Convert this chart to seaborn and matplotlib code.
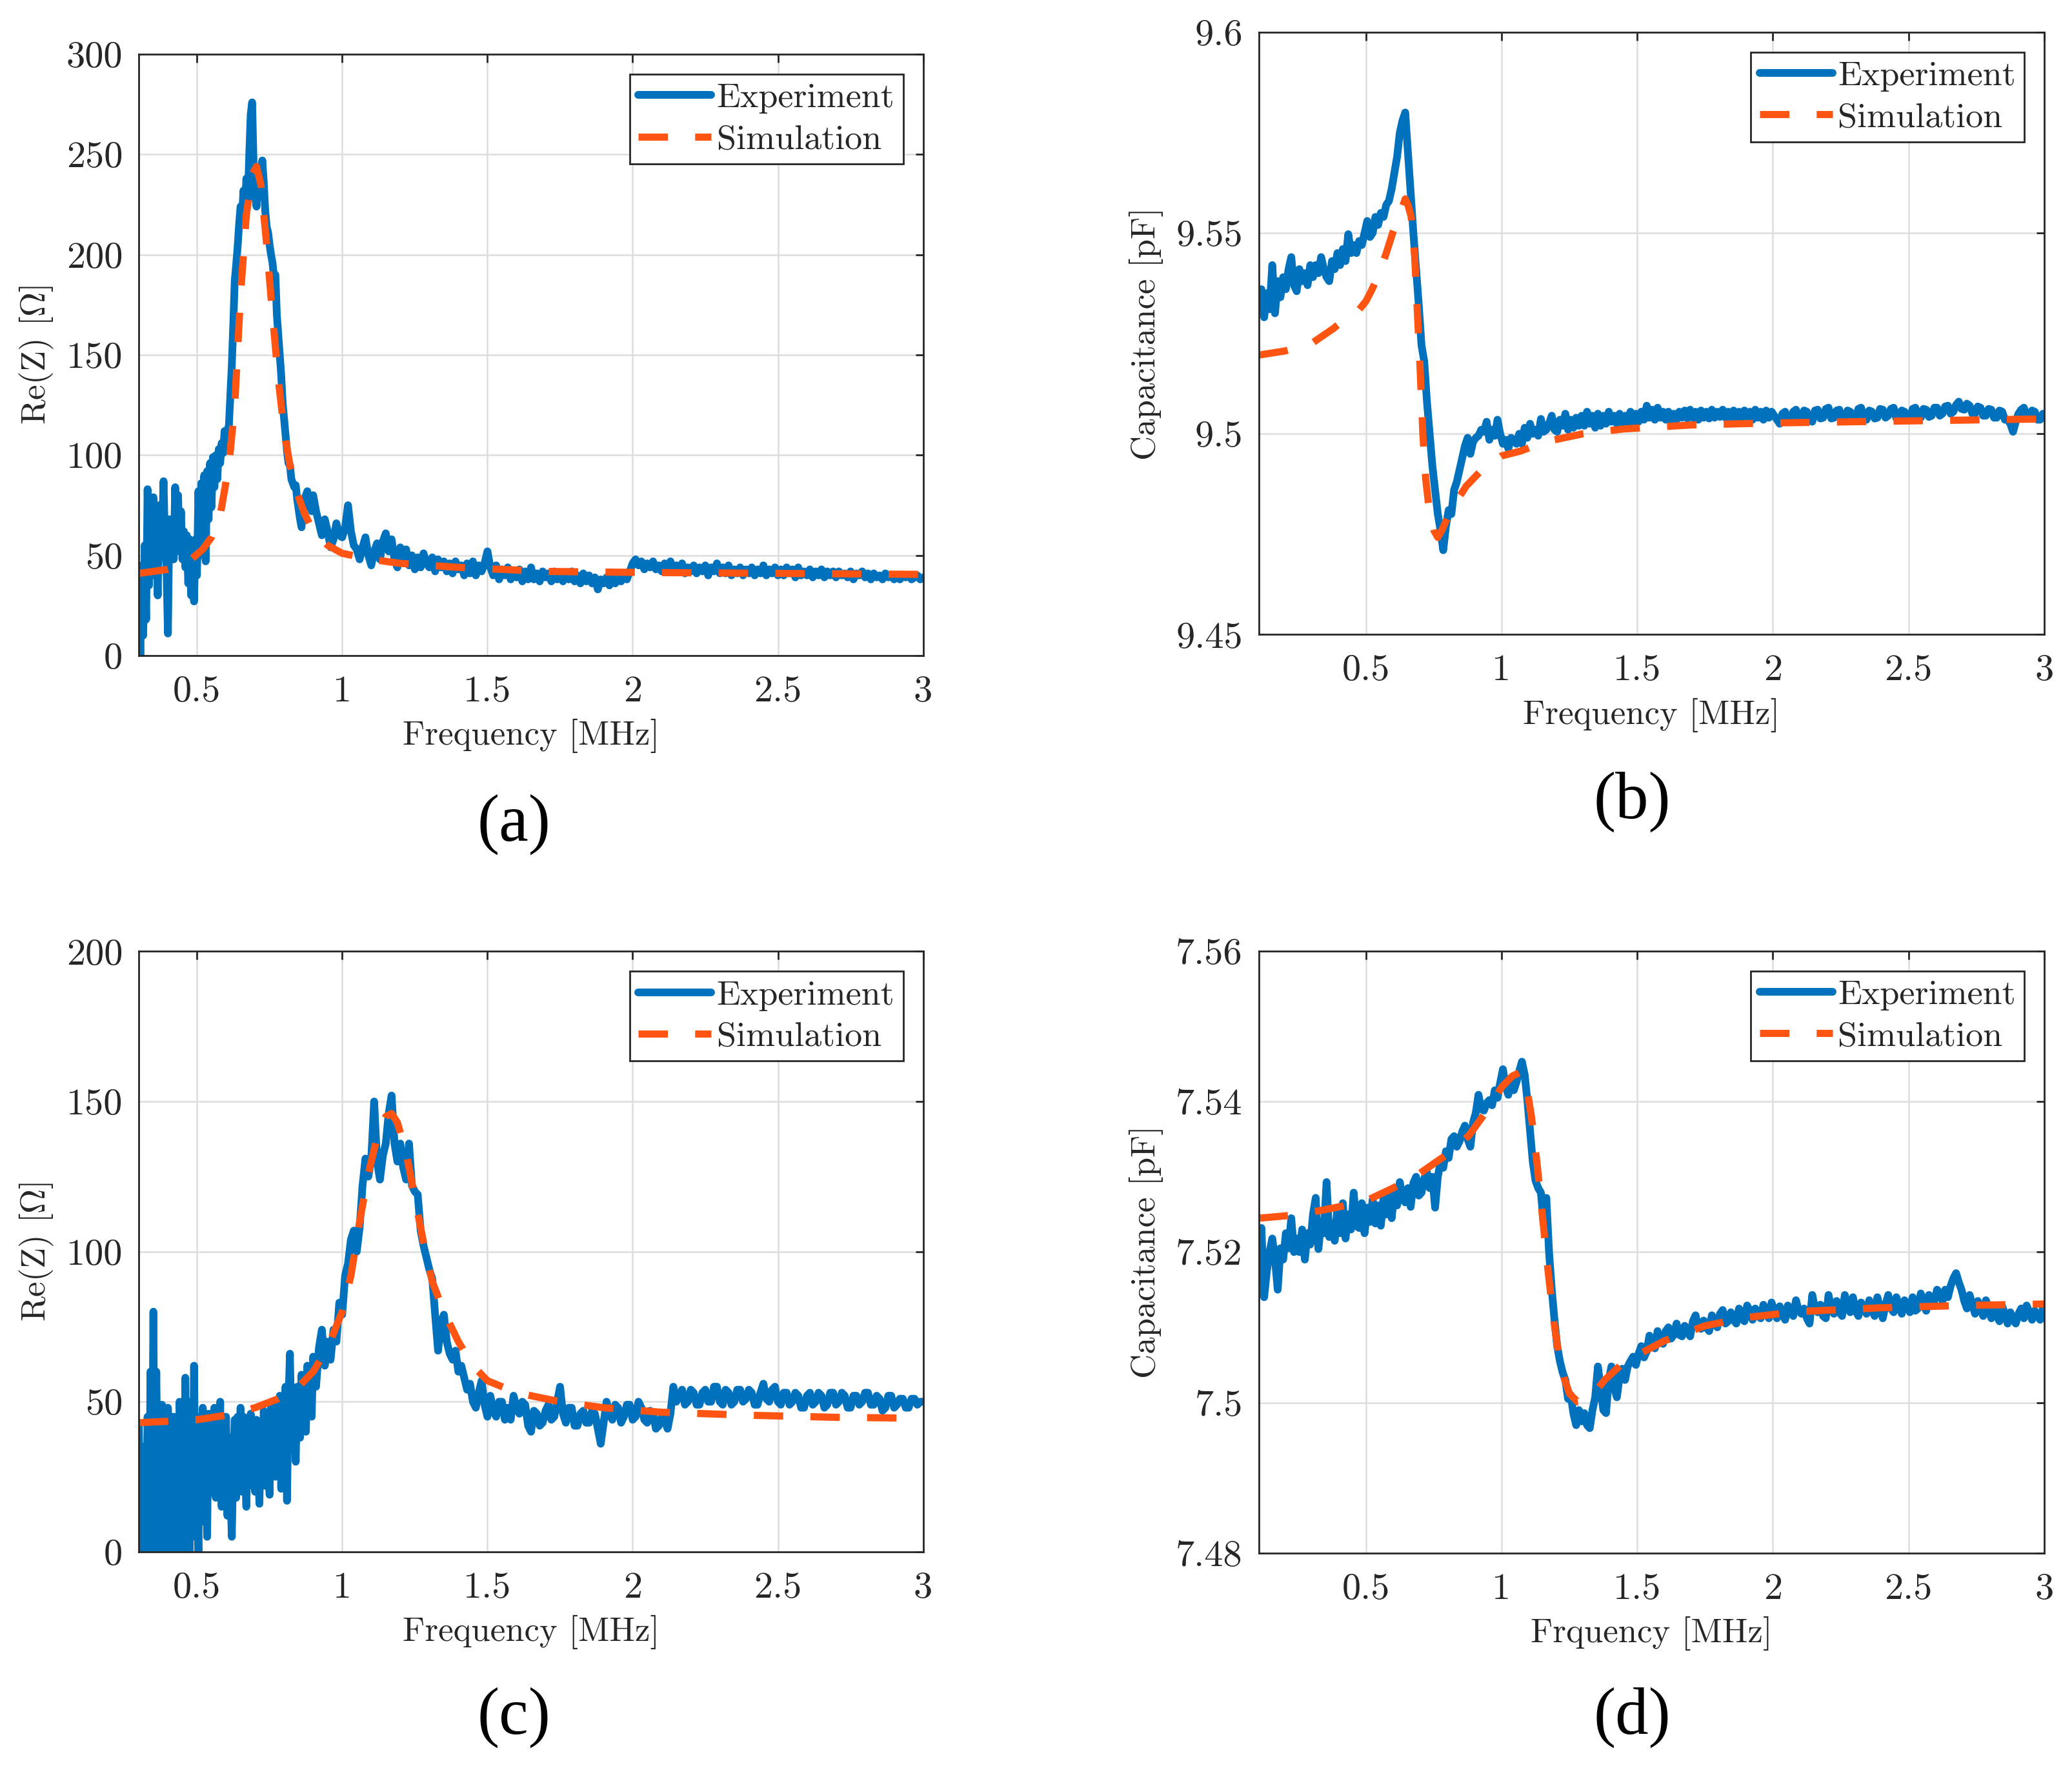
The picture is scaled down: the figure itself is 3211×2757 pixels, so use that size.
import numpy as np
import matplotlib
matplotlib.use("Agg")
import matplotlib.pyplot as plt
from matplotlib.ticker import FuncFormatter, MultipleLocator
import seaborn as sns

# ---------------- data ----------------
# (a) Re(Z) sample 1
a_exp_lo = [  # 0.300 .. 0.900 MHz, step 0.005
    38, 0, 45, 10, 55, 18, 83, 35, 70, 45,
    79, 40, 58, 30, 75, 50, 62, 87, 55, 45,
    11, 68, 50, 65, 48, 84, 55, 80, 52, 72,
    48, 62, 44, 60, 36, 58, 30, 52, 27, 58,
    40, 82, 50, 86, 58, 90, 47, 92, 68, 96,
    74, 99, 84, 100, 88, 103, 96, 106, 101, 112,
    108, 112, 115, 130, 145, 165, 187, 195, 204, 215,
    224, 218, 232, 222, 238, 226, 250, 270, 276, 245,
    230, 224, 238, 232, 240, 247, 236, 222, 214, 211,
    205, 200, 196, 189, 190, 170, 160, 150, 140, 126,
    118, 110, 102, 96, 95, 88, 86, 84, 85, 78,
    73, 68, 64, 72, 76, 80, 82, 74, 78, 72,
    80]
a_exp_hi = [  # 0.91 .. 3.00 MHz, step 0.01
    72, 66, 60, 68, 62, 54, 58, 66, 60, 59,
    64, 75, 62, 55, 53, 48, 54, 59, 50, 45,
    52, 56, 48, 57, 61, 52, 58, 48, 44, 54,
    47, 53, 45, 50, 43, 49, 44, 51, 46, 44,
    49, 42, 48, 44, 47, 42, 46, 41, 47, 43,
    45, 40, 46, 41, 47, 40, 45, 42, 46, 52,
    44, 40, 45, 38, 43, 40, 44, 38, 42, 39,
    43, 37, 42, 38, 44, 38, 41, 37, 42, 39,
    41, 37, 42, 38, 41, 37, 40, 38, 42, 37,
    40, 36, 41, 37, 40, 36, 39, 33, 38, 36,
    39, 35, 40, 36, 41, 37, 40, 38, 42, 46,
    48, 45, 47, 43, 46, 44, 47, 43, 45, 42,
    46, 43, 47, 42, 45, 43, 46, 41, 44, 42,
    45, 41, 44, 42, 45, 40, 44, 42, 46, 41,
    44, 41, 45, 40, 43, 41, 44, 40, 43, 41,
    44, 40, 43, 41, 45, 40, 43, 41, 44, 40,
    43, 40, 44, 41, 43, 39, 44, 40, 42, 40,
    43, 39, 42, 40, 43, 39, 42, 40, 42, 39,
    42, 40, 41, 39, 42, 38, 41, 40, 42, 39,
    41, 38, 41, 39, 40, 38, 41, 39, 40, 38,
    40, 38, 40, 39, 40, 38, 39, 40, 38, 39]
a_sim_f = [0.30, 0.40, 0.45, 0.48, 0.52, 0.55, 0.58, 0.61, 0.63, 0.65, 0.67,
           0.69, 0.705, 0.72, 0.74, 0.76, 0.78, 0.80, 0.82, 0.845, 0.87, 0.90,
           0.95, 1.00, 1.10, 1.20, 1.40, 1.70, 2.00, 2.50, 3.00]
a_sim = [41, 43, 45, 48, 53, 59, 70, 95, 125, 180, 220,
         240, 244, 235, 205, 170, 138, 112, 95, 81, 71, 62,
         55, 51, 48, 46, 44, 42, 41.5, 41, 40.5]

# (b) capacitance sample 1
b_exp_lo = [  # 0.105 .. 0.905 MHz, step 0.01
    9.531, 9.536, 9.529, 9.535, 9.531, 9.542, 9.530, 9.538, 9.534, 9.539,
    9.536, 9.541, 9.544, 9.537, 9.5355, 9.541, 9.538, 9.540, 9.537, 9.542,
    9.539, 9.542, 9.540, 9.544, 9.541, 9.539, 9.538, 9.543, 9.541, 9.545,
    9.542, 9.546, 9.543, 9.5497, 9.545, 9.547, 9.545, 9.548, 9.547, 9.550,
    9.553, 9.549, 9.550, 9.554, 9.552, 9.555, 9.554, 9.557, 9.558, 9.561,
    9.565, 9.569, 9.575, 9.578, 9.580, 9.570, 9.560, 9.550, 9.541, 9.532,
    9.522, 9.518, 9.508, 9.500, 9.492, 9.486, 9.480, 9.476, 9.471, 9.477,
    9.481, 9.480, 9.486, 9.488, 9.491, 9.494, 9.497, 9.499, 9.495, 9.498,
    9.499]
b_exp_hi = [  # 0.915 .. 3.005 MHz, step 0.01
    9.4995, 9.501, 9.5005, 9.503, 9.4985, 9.501, 9.4995, 9.5035, 9.500, 9.4975,
    9.4985, 9.4963, 9.499, 9.4985, 9.4975, 9.500, 9.4975, 9.5015, 9.499, 9.5025,
    9.500, 9.501, 9.4995, 9.5037, 9.5005, 9.501, 9.5025, 9.5045, 9.501, 9.5005,
    9.5035, 9.502, 9.505, 9.501, 9.5035, 9.5015, 9.504, 9.502, 9.5045, 9.502,
    9.5055, 9.5025, 9.5045, 9.5015, 9.505, 9.502, 9.5045, 9.5025, 9.5055, 9.503,
    9.5045, 9.5025, 9.505, 9.5025, 9.5045, 9.503, 9.5055, 9.5025, 9.505, 9.503,
    9.5055, 9.5035, 9.507, 9.504, 9.506, 9.5035, 9.5065, 9.504, 9.5055, 9.5035,
    9.5055, 9.503, 9.505, 9.5035, 9.5055, 9.504, 9.5058, 9.5038, 9.506, 9.504,
    9.5055, 9.5035, 9.5058, 9.504, 9.5055, 9.5038, 9.506, 9.504, 9.5055, 9.5042,
    9.506, 9.504, 9.5055, 9.5038, 9.5058, 9.504, 9.5055, 9.5035, 9.5058, 9.504,
    9.5055, 9.5035, 9.506, 9.504, 9.5055, 9.5035, 9.5058, 9.504, 9.5055, 9.5045,
    9.5035, 9.5025, 9.505, 9.5055, 9.5035, 9.503, 9.5055, 9.506, 9.5038, 9.504,
    9.5058, 9.5055, 9.5035, 9.503, 9.5058, 9.506, 9.5038, 9.504, 9.5062, 9.5065,
    9.5038, 9.504, 9.5058, 9.506, 9.5035, 9.5035, 9.5058, 9.5055, 9.5038, 9.504,
    9.5062, 9.5065, 9.504, 9.5035, 9.5058, 9.5055, 9.5038, 9.504, 9.5062, 9.506,
    9.504, 9.5045, 9.5062, 9.5065, 9.5038, 9.504, 9.5058, 9.5055, 9.5035, 9.5035,
    9.5062, 9.5065, 9.504, 9.504, 9.5062, 9.506, 9.5042, 9.5045, 9.5065, 9.5065,
    9.5045, 9.505, 9.5068, 9.507, 9.505, 9.5055, 9.5072, 9.508, 9.5062, 9.506,
    9.5075, 9.507, 9.505, 9.505, 9.5068, 9.5065, 9.5045, 9.5045, 9.5062, 9.506,
    9.504, 9.504, 9.5058, 9.5055, 9.5035, 9.5035, 9.5025, 9.5005, 9.503, 9.505,
    9.506, 9.5065, 9.5042, 9.504, 9.5058, 9.5055, 9.5035, 9.5035, 9.505, 9.5045]
b_sim_f = [0.105, 0.20, 0.30, 0.38, 0.43, 0.47, 0.50, 0.52, 0.55, 0.575, 0.60,
           0.62, 0.635, 0.645, 0.655, 0.667, 0.68, 0.69, 0.70, 0.71, 0.72, 0.735,
           0.75, 0.765, 0.78, 0.80, 0.83, 0.87, 0.93, 1.00, 1.07, 1.16, 1.30,
           1.45, 1.70, 2.00, 2.50, 3.00]
b_sim = [9.5196, 9.5206, 9.5225, 9.5262, 9.5290, 9.5305, 9.5330, 9.5356, 9.5400,
         9.5450, 9.5503, 9.5540, 9.5565, 9.5585, 9.5570, 9.5540, 9.5440, 9.5300,
         9.5160, 9.5000, 9.4890, 9.4800, 9.4760, 9.4742, 9.4760, 9.4790, 9.4828,
         9.4870, 9.4912, 9.4945, 9.4957, 9.4980, 9.5000, 9.5012, 9.5022, 9.5027,
         9.5032, 9.5037]

# (c) Re(Z) sample 2
c_exp_lo = [  # 0.300 .. 0.900 MHz, step 0.005
    42, 0, 35, 0, 30, 12, 45, 0, 60, 10,
    80, 0, 60, 20, 38, 0, 49, 5, 35, 0,
    48, 15, 30, 0, 45, 20, 40, 0, 50, 10,
    35, 0, 58, 20, 45, 0, 50, 5, 62, 15,
    40, 0, 45, 18, 48, 10, 38, 5, 46, 20,
    40, 25, 48, 18, 42, 28, 50, 15, 40, 22,
    45, 12, 38, 20, 5, 30, 44, 18, 45, 25,
    48, 20, 45, 28, 15, 40, 22, 46, 28, 40,
    20, 44, 30, 16, 42, 25, 47, 22, 45, 30,
    19, 48, 28, 50, 25, 45, 35, 52, 21, 48,
    30, 55, 17, 50, 66, 40, 52, 45, 30, 55,
    45, 38, 59, 48, 55, 40, 62, 50, 58, 45,
    65]
c_exp_mid = [  # 0.91 .. 1.50 MHz, step 0.01
    55, 68, 74, 62, 70, 64, 74, 70, 83, 79,
    92, 96, 104, 107, 100, 108, 122, 131, 125, 131,
    150, 130, 124, 132, 136, 146, 152, 136, 130, 136,
    128, 124, 136, 122, 120, 119, 107, 102, 98, 94,
    91, 79, 67, 76, 79, 70, 66, 64, 67, 60,
    62, 58, 54, 56, 50, 48, 53, 57, 49, 45]
c_exp_hi = [  # 1.51 .. 3.00 MHz, step 0.01
    52, 47, 45, 50, 50, 44, 48, 44, 52, 48,
    46, 50, 49, 42, 40, 47, 46, 42, 43, 47,
    49, 44, 45, 50, 55, 46, 43, 48, 48, 42,
    42, 46, 47, 43, 43, 47, 46, 41, 36, 43,
    50, 46, 44, 49, 48, 43, 45, 49, 49, 44,
    45, 50, 48, 44, 43, 47, 46, 41, 42, 45,
    44, 41, 46, 55, 50, 52, 54, 49, 50, 54,
    53, 49, 49, 53, 54, 50, 50, 55, 55, 50,
    49, 54, 53, 49, 50, 54, 54, 50, 51, 54,
    53, 49, 49, 53, 56, 51, 50, 54, 55, 50,
    49, 53, 53, 49, 50, 53, 52, 48, 48, 52,
    53, 49, 50, 53, 52, 48, 49, 53, 53, 49,
    50, 53, 52, 48, 48, 52, 52, 49, 50, 53,
    53, 49, 49, 52, 51, 47, 48, 52, 52, 48,
    49, 51, 51, 48, 48, 51, 51, 49, 50, 50]
c_sim_f = [0.30, 0.40, 0.50, 0.60, 0.70, 0.78, 0.84, 0.90, 0.95, 1.00, 1.03,
           1.06, 1.09, 1.12, 1.15, 1.17, 1.19, 1.22, 1.25, 1.28, 1.31, 1.35,
           1.40, 1.45, 1.50, 1.60, 1.75, 1.90, 2.10, 2.40, 2.70, 3.00]
c_sim = [43, 43.5, 44, 45.5, 48, 51, 54, 60, 68, 80, 92,
         110, 126, 138, 145, 146, 143, 133, 118, 103, 90, 80,
         70, 62, 57, 53, 50, 48, 46.5, 45.5, 44.8, 44.5]

# (d) capacitance sample 2
d_exp_lo = [  # 0.105 .. 1.505 MHz, step 0.01
    7.5185, 7.5232, 7.5140, 7.5175, 7.5200, 7.5218, 7.5190, 7.5150, 7.5205, 7.5190,
    7.5225, 7.5205, 7.5245, 7.5200, 7.5218, 7.5200, 7.5230, 7.5190, 7.5225, 7.5210,
    7.5250, 7.5272, 7.5204, 7.5240, 7.5225, 7.5293, 7.5220, 7.5238, 7.5215, 7.5259,
    7.5225, 7.5265, 7.5218, 7.5250, 7.5230, 7.5279, 7.5235, 7.5232, 7.5265, 7.5225,
    7.5259, 7.5240, 7.5270, 7.5238, 7.5262, 7.5235, 7.5272, 7.5250, 7.5278, 7.5245,
    7.5280, 7.5262, 7.5293, 7.5270, 7.5266, 7.5285, 7.5260, 7.5292, 7.5300, 7.5275,
    7.5279, 7.5298, 7.5306, 7.5285, 7.5300, 7.5259, 7.5300, 7.5320, 7.5312, 7.5334,
    7.5325, 7.5350, 7.5354, 7.5340, 7.5347, 7.5360, 7.5368, 7.5350, 7.5340, 7.5372,
    7.5385, 7.5409, 7.5390, 7.5388, 7.5398, 7.5402, 7.5395, 7.5415, 7.5405, 7.5425,
    7.5443, 7.5420, 7.5409, 7.5430, 7.5415, 7.5426, 7.5440, 7.5453, 7.5436, 7.5402,
    7.5361, 7.5320, 7.5295, 7.5285, 7.5279, 7.5238, 7.5272, 7.5200, 7.5150, 7.5110,
    7.5075, 7.5055, 7.5040, 7.5030, 7.5005, 7.5010, 7.4985, 7.4970, 7.4990, 7.4975,
    7.4986, 7.4970, 7.4966, 7.4990, 7.5007, 7.5048, 7.5020, 7.4990, 7.4986, 7.5030,
    7.5048, 7.5020, 7.5007, 7.5035, 7.5045, 7.5030, 7.5048, 7.5055, 7.5061, 7.5050,
    7.5065]
d_exp_hi = [  # 1.515 .. 3.005 MHz, step 0.01
    7.5075, 7.5060, 7.5068, 7.5089, 7.5080, 7.5072, 7.5095, 7.5082, 7.5078, 7.5095,
    7.5100, 7.5085, 7.5090, 7.5105, 7.5090, 7.5088, 7.5102, 7.5095, 7.5088, 7.5108,
    7.5116, 7.5100, 7.5098, 7.5109, 7.5100, 7.5095, 7.5116, 7.5105, 7.5100, 7.5118,
    7.5123, 7.5105, 7.5108, 7.5120, 7.5110, 7.5105, 7.5125, 7.5112, 7.5108, 7.5129,
    7.5122, 7.5110, 7.5125, 7.5115, 7.5112, 7.5130, 7.5118, 7.5112, 7.5133, 7.5120,
    7.5112, 7.5128, 7.5118, 7.5110, 7.5129, 7.5120, 7.5115, 7.5136, 7.5122, 7.5118,
    7.5125, 7.5112, 7.5105, 7.5143, 7.5125, 7.5120, 7.5130, 7.5115, 7.5112, 7.5143,
    7.5125, 7.5118, 7.5135, 7.5120, 7.5115, 7.5143, 7.5128, 7.5120, 7.5140, 7.5122,
    7.5115, 7.5133, 7.5125, 7.5118, 7.5136, 7.5122, 7.5115, 7.5140, 7.5125, 7.5112,
    7.5130, 7.5143, 7.5125, 7.5120, 7.5140, 7.5128, 7.5118, 7.5136, 7.5130, 7.5120,
    7.5140, 7.5122, 7.5125, 7.5145, 7.5130, 7.5122, 7.5143, 7.5128, 7.5135, 7.5150,
    7.5145, 7.5135, 7.5150, 7.5140, 7.5155, 7.5165, 7.5172, 7.5160, 7.5150, 7.5135,
    7.5125, 7.5143, 7.5130, 7.5118, 7.5135, 7.5125, 7.5115, 7.5136, 7.5125, 7.5112,
    7.5123, 7.5115, 7.5108, 7.5128, 7.5118, 7.5105, 7.5120, 7.5110, 7.5105, 7.5118,
    7.5125, 7.5112, 7.5129, 7.5120, 7.5110, 7.5122, 7.5115, 7.5110, 7.5125, 7.5129]
d_sim_f = [0.105, 0.20, 0.30, 0.40, 0.50, 0.60, 0.70, 0.80, 0.88, 0.94, 1.00,
           1.04, 1.07, 1.09, 1.11, 1.13, 1.15, 1.17, 1.19, 1.21, 1.23, 1.25,
           1.28, 1.31, 1.34, 1.38, 1.44, 1.50, 1.60, 1.75, 1.90, 2.10, 2.40,
           2.70, 3.00]
d_sim = [7.5245, 7.5248, 7.5253, 7.5260, 7.5268, 7.5285, 7.5305, 7.5330, 7.5355,
         7.5385, 7.5419, 7.5434, 7.5439, 7.5425, 7.5380, 7.5320, 7.5250, 7.5180,
         7.5115, 7.5065, 7.5033, 7.5012, 7.5001, 7.5002, 7.5012, 7.5030, 7.5050,
         7.5063, 7.5082, 7.5102, 7.5113, 7.5121, 7.5126, 7.5129, 7.5131]

# frequency sweeps of the measured traces (uniform steps per segment)
a_f = np.concatenate([0.300 + 0.005 * np.arange(len(a_exp_lo)),
                      0.91 + 0.01 * np.arange(len(a_exp_hi))])
b_f = np.concatenate([0.105 + 0.01 * np.arange(len(b_exp_lo)),
                      0.915 + 0.01 * np.arange(len(b_exp_hi))])
c_f = np.concatenate([0.300 + 0.005 * np.arange(len(c_exp_lo)),
                      0.91 + 0.01 * np.arange(len(c_exp_mid)),
                      1.51 + 0.01 * np.arange(len(c_exp_hi))])
d_f = np.concatenate([0.105 + 0.01 * np.arange(len(d_exp_lo)),
                      1.515 + 0.01 * np.arange(len(d_exp_hi))])

# ---------------- style ----------------
sns.set_theme(style="white")
plt.rcParams["font.family"] = ["cmr10", "DejaVu Serif"]
plt.rcParams["mathtext.fontset"] = "cm"
plt.rcParams["axes.formatter.use_mathtext"] = True
plt.rcParams["axes.unicode_minus"] = False

BLUE = "#0072BD"
ORANGE = "#FF5412"
DARK = "#262626"

fig = plt.figure(figsize=(16.06, 13.785), dpi=200)
ax_a = fig.add_axes([0.0670, 0.6315, 0.3784, 0.3380])
ax_b = fig.add_axes([0.6073, 0.6433, 0.3790, 0.3386])
ax_c = fig.add_axes([0.0670, 0.1277, 0.3784, 0.3375])
ax_d = fig.add_axes([0.6073, 0.1270, 0.3790, 0.3384])

fmt = FuncFormatter(lambda v, p: f"{v:g}")


def draw(ax, f_exp, y_exp, f_sim, y_sim, xlim, ylim, ystep, ylabel, xlabel, ylab_x):
    sns.lineplot(x=f_exp, y=y_exp, ax=ax, color=BLUE, lw=4.3, label="Experiment",
                 estimator=None, sort=False, errorbar=None)
    sns.lineplot(x=f_sim, y=y_sim, ax=ax, color=ORANGE, lw=4.0, label="Simulation",
                 estimator=None, sort=False, errorbar=None)
    ax.lines[0].set_solid_joinstyle("round")
    ax.lines[1].set_dashes((4.1, 3.8))
    ax.lines[1].set_dash_capstyle("butt")

    ax.set_xlim(*xlim)
    ax.set_ylim(*ylim)
    ax.xaxis.set_major_locator(MultipleLocator(0.5))
    ax.yaxis.set_major_locator(MultipleLocator(ystep))
    ax.xaxis.set_major_formatter(fmt)
    ax.yaxis.set_major_formatter(fmt)
    ax.grid(True, color="#dddddd", lw=0.9)
    ax.set_axisbelow(True)
    for s in ax.spines.values():
        s.set_color(DARK)
        s.set_linewidth(1.0)
    ax.tick_params(direction="in", length=4.5, width=1.0, top=True, right=True,
                   labelsize=21, colors=DARK)
    ax.tick_params(axis="x", pad=11)
    ax.tick_params(axis="y", pad=9)
    ax.set_xlabel(xlabel, fontsize=19, color=DARK)
    ax.set_ylabel(ylabel, fontsize=19, color=DARK)
    ax.xaxis.set_label_coords(0.5, -0.105)
    ax.yaxis.set_label_coords(ylab_x, 0.5)

    leg = ax.legend(loc="upper right", fontsize=19.5, frameon=True, fancybox=False,
                    edgecolor=DARK, framealpha=1, borderaxespad=0.57,
                    handlelength=2.09, handletextpad=0.15, borderpad=0.25,
                    labelspacing=0.3)
    leg.get_frame().set_linewidth(1.0)


draw(ax_a, a_f, a_exp_lo + a_exp_hi, a_sim_f, a_sim, (0.3, 3.0), (0, 300), 50,
     r"Re(Z) [$\Omega$]", "Frequency [MHz]", -0.106)
draw(ax_b, b_f, b_exp_lo + b_exp_hi, b_sim_f, b_sim, (0.105, 3.0), (9.45, 9.6), 0.05,
     "Capacitance [pF]", "Frequency [MHz]", -0.121)
draw(ax_c, c_f, c_exp_lo + c_exp_mid + c_exp_hi, c_sim_f, c_sim, (0.3, 3.0), (0, 200), 50,
     r"Re(Z) [$\Omega$]", "Frequency [MHz]", -0.106)
draw(ax_d, d_f, d_exp_lo + d_exp_hi, d_sim_f, d_sim, (0.105, 3.0), (7.48, 7.56), 0.02,
     "Capacitance [pF]", "Frquency [MHz]", -0.121)

for x, y, t in [(0.2481, 0.5365, "(a)"), (0.7874, 0.5491, "(b)"),
                (0.2481, 0.0345, "(c)"), (0.7874, 0.0345, "(d)")]:
    fig.text(x, y, t, ha="center", va="center", fontsize=37,
             family=["Liberation Serif", "DejaVu Serif"], color="black")

fig.savefig("out.png", dpi=200)
